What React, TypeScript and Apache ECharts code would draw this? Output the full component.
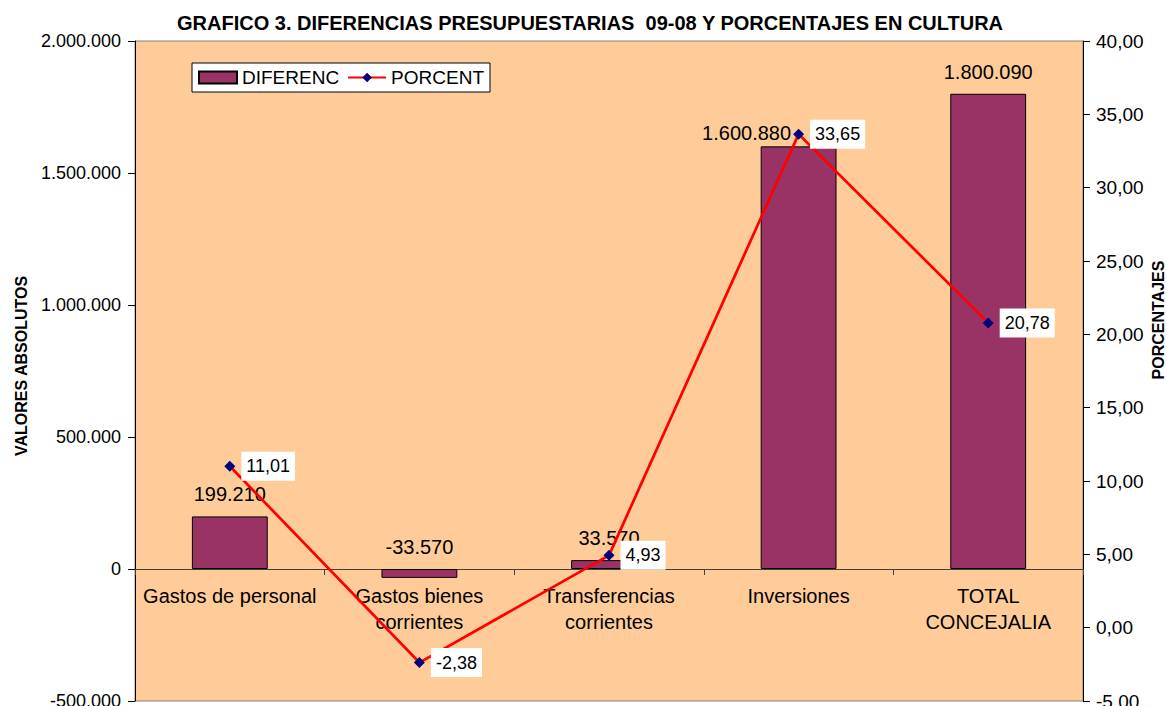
import React, { useEffect, useRef } from "react";
import * as echarts from "echarts";

const categories = [
  "Gastos de personal",
  "Gastos bienes\ncorrientes",
  "Transferencias\ncorrientes",
  "Inversiones",
  "TOTAL\nCONCEJALIA",
];
const diferenc = [199210, -33570, 33570, 1600880, 1800090];
const porcent = [11.01, -2.38, 4.93, 33.65, 20.78];
const leftTicks = { min: -500000, max: 2000000, interval: 500000 };
const rightTicks = { min: -5, max: 40, interval: 5 };

const FONT = "'Liberation Sans', Arial, sans-serif";

const fmtThousands = (v: number) => {
  const s = Math.abs(Math.round(v)).toString().replace(/\B(?=(\d{3})+(?!\d))/g, ".");
  return (v < 0 ? "-" : "") + s;
};
const fmtPct = (v: number) => v.toFixed(2).replace(".", ",");

const GRID_TOP = 41;
const GRID_BOTTOM = 5;
const CHART_H = 706;

export default function App() {
  const ref = useRef<HTMLDivElement>(null);
  useEffect(() => {
    if (!ref.current) return;
    const chart = echarts.init(ref.current, undefined, { renderer: "svg" });
    const plotH = CHART_H - GRID_TOP - GRID_BOTTOM;
    const zeroOffset = -plotH * (0 - leftTicks.min) / (leftTicks.max - leftTicks.min);
    chart.setOption({
      animation: false,
      backgroundColor: "#ffffff",
      textStyle: { fontFamily: FONT, color: "#000" },
      title: {
        text: "GRAFICO 3. DIFERENCIAS PRESUPUESTARIAS  09-08 Y PORCENTAJES EN CULTURA",
        left: 177,
        top: 13,
        padding: 0,
        textStyle: { fontFamily: FONT, fontSize: 20, fontWeight: "bold", color: "#000" },
      },
      legend: {
        left: 192,
        top: 63,
        padding: [5, 6, 5, 6],
        backgroundColor: "#ffffff",
        borderColor: "#000",
        borderWidth: 1,
        itemWidth: 38,
        itemHeight: 12,
        itemGap: 8,
        textStyle: { fontFamily: FONT, fontSize: 19, color: "#000" },
        data: [
          { name: "DIFERENC", icon: "rect" },
          { name: "PORCENT" },
        ],
      },
      grid: {
        left: 135,
        right: 84,
        top: GRID_TOP,
        bottom: GRID_BOTTOM,
        containLabel: false,
        outerBoundsMode: "none",
        show: true,
        backgroundColor: "#FFCC99",
        borderColor: "#808080",
        borderWidth: 1,
      },
      xAxis: {
        type: "category",
        data: categories,
        position: "bottom",
        offset: zeroOffset,
        axisLine: { onZero: false, lineStyle: { color: "#404040", width: 1 } },
        axisTick: { show: true, alignWithLabel: false, interval: 0, length: 6, lineStyle: { color: "#404040" } },
        axisLabel: {
          interval: 0,
          fontFamily: FONT,
          fontSize: 20,
          lineHeight: 26,
          margin: 14,
          color: "#000",
        },
        splitLine: { show: false },
      },
      yAxis: [
        {
          type: "value",
          min: leftTicks.min,
          max: leftTicks.max,
          interval: leftTicks.interval,
          position: "left",
          axisLine: { show: true, lineStyle: { color: "#000" } },
          axisTick: { show: true, length: 7, lineStyle: { color: "#000" } },
          axisLabel: { fontFamily: FONT, fontSize: 18, color: "#000", margin: 14, formatter: fmtThousands },
          splitLine: { show: false },
        },
        {
          type: "value",
          min: rightTicks.min,
          max: rightTicks.max,
          interval: rightTicks.interval,
          position: "right",
          axisLine: { show: true, lineStyle: { color: "#000" } },
          axisTick: { show: true, length: 7, lineStyle: { color: "#000" } },
          axisLabel: { fontFamily: FONT, fontSize: 19, color: "#000", margin: 13, formatter: fmtPct },
          splitLine: { show: false },
        },
      ],
      graphic: [
        {
          type: "text",
          x: 21,
          y: 366,
          rotation: Math.PI / 2,
          style: {
            text: "VALORES ABSOLUTOS",
            fontFamily: FONT,
            fontSize: 16,
            fontWeight: "bold",
            fill: "#000",
            textAlign: "center",
            textVerticalAlign: "middle",
          },
        },
        {
          type: "text",
          x: 1158,
          y: 320,
          rotation: Math.PI / 2,
          style: {
            text: "PORCENTAJES",
            fontFamily: FONT,
            fontSize: 16,
            fontWeight: "bold",
            fill: "#000",
            textAlign: "center",
            textVerticalAlign: "middle",
          },
        },
      ],
      series: [
        {
          name: "DIFERENC",
          type: "bar",
          yAxisIndex: 0,
          barWidth: "40%",
          itemStyle: { color: "#993366", borderColor: "#000", borderWidth: 1 },
          label: {
            show: true,
            position: "top",
            distance: 12,
            fontFamily: FONT,
            fontSize: 20,
            color: "#000",
            formatter: (p: any) => fmtThousands(p.value),
          },
          data: diferenc.map((v, i) =>
            i === 3 ? { value: v, label: { distance: 3, offset: [-52, 0] } } : v
          ),
          z: 2,
        },
        {
          name: "PORCENT",
          type: "line",
          yAxisIndex: 1,
          data: porcent,
          symbol: "diamond",
          symbolSize: 11,
          itemStyle: { color: "#000080" },
          lineStyle: { color: "#FF0000", width: 2.75 },
          label: {
            show: true,
            position: "right",
            distance: 6,
            fontFamily: FONT,
            fontSize: 18,
            color: "#000",
            backgroundColor: "#ffffff",
            padding: [6, 5, 5, 5],
            formatter: (p: any) => fmtPct(p.value),
          },
          z: 3,
        },
      ],
    });
    return () => chart.dispose();
  }, []);
  return (
    <div
      ref={ref}
      style={{ position: "absolute", left: 0, top: 0, width: 1167, height: 706 }}
    />
  );
}
